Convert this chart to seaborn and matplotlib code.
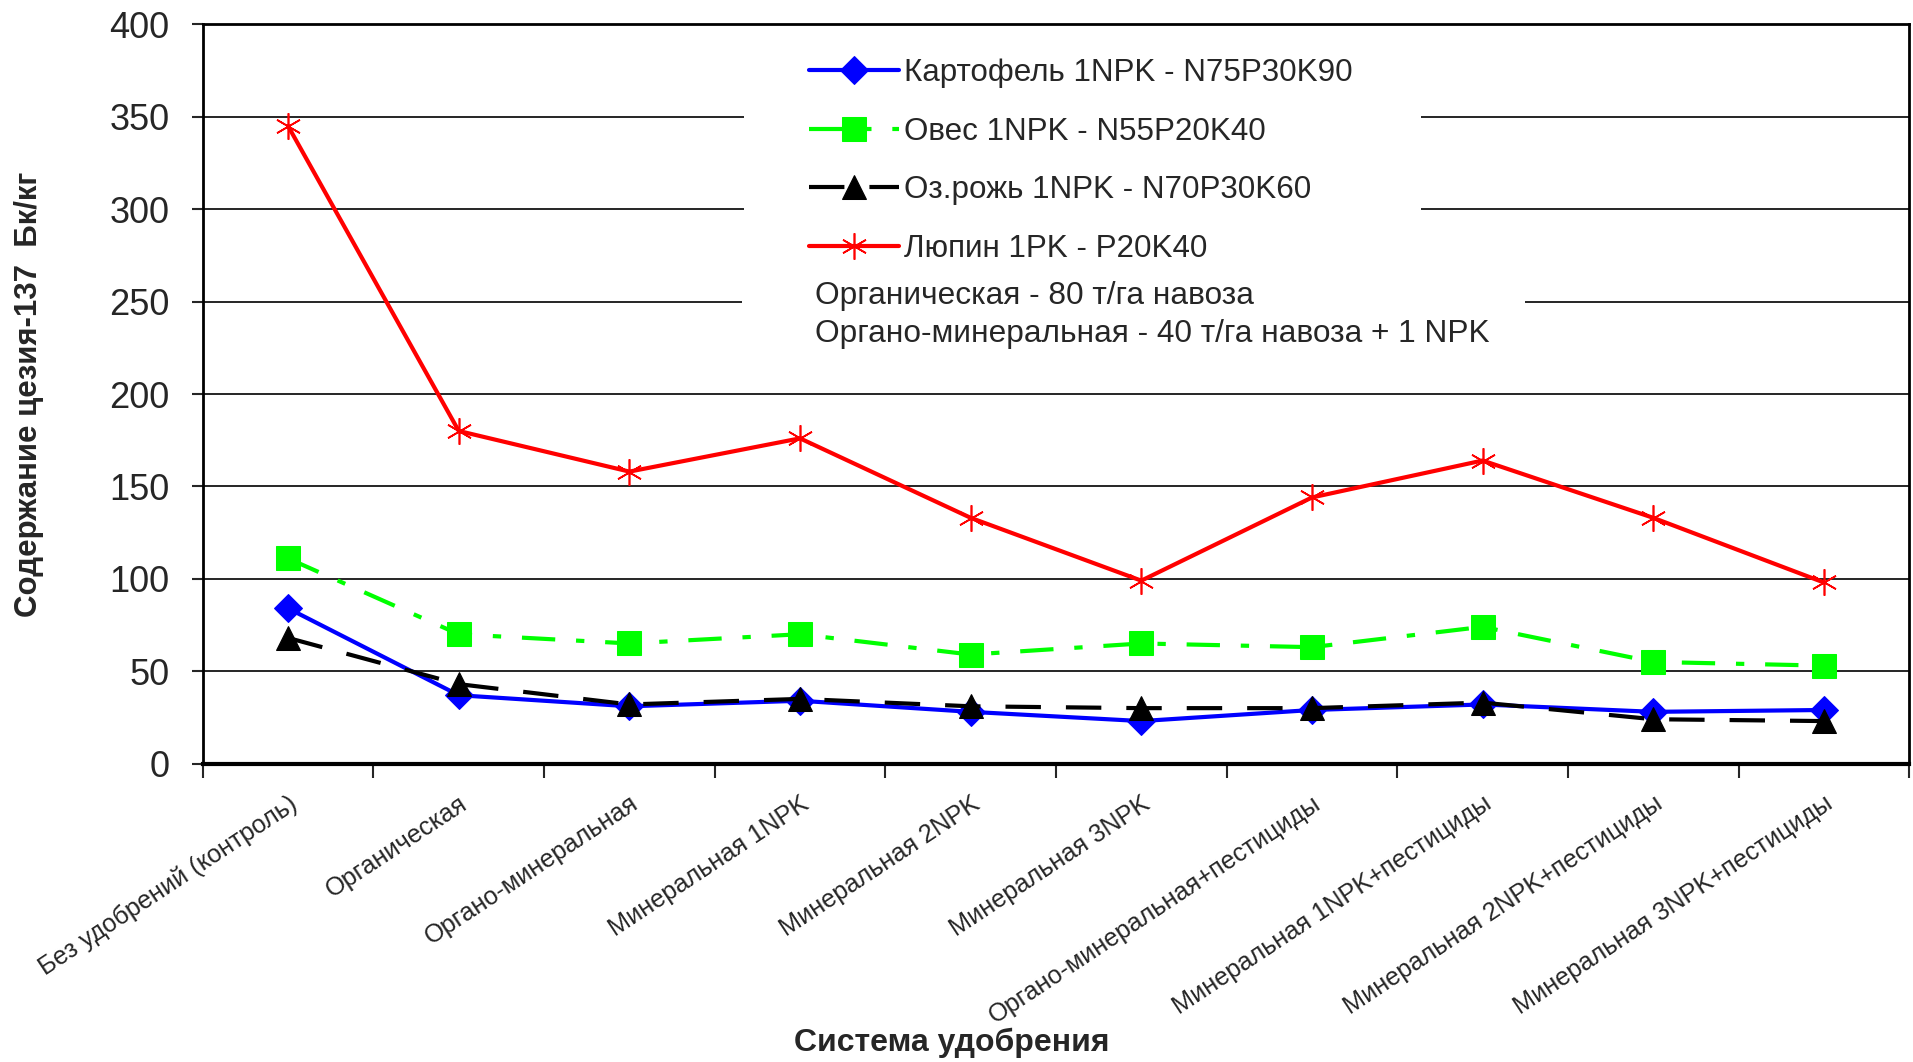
import numpy as np
import pandas as pd
import matplotlib
matplotlib.use("Agg")
import matplotlib.pyplot as plt
from matplotlib.patches import Rectangle
import seaborn as sns

categories = [
    "Без удобрений (контроль)",
    "Органическая",
    "Органо-минеральная",
    "Минеральная 1NPK",
    "Минеральная 2NPK",
    "Минеральная 3NPK",
    "Органо-минеральная+пестициды",
    "Минеральная 1NPK+пестициды",
    "Минеральная 2NPK+пестициды",
    "Минеральная 3NPK+пестициды",
]
potato = [84, 37, 31, 34, 28, 23, 29, 32, 28, 29]
oats = [111, 70, 65, 70, 59, 65, 63, 74, 55, 53]
rye = [68, 43, 32, 35, 31, 30, 30, 33, 24, 23]
lupin = [345, 180, 158, 176, 133, 99, 144, 164, 133, 98]

series_names = [
    "Картофель 1NPK - N75P30K90",
    "Овес 1NPK - N55P20K40",
    "Оз.рожь 1NPK - N70P30K60",
    "Люпин 1PK - P20K40",
]
yticks = [0, 50, 100, 150, 200, 250, 300, 350, 400]
note_lines = ["Органическая - 80 т/га навоза",
              "Органо-минеральная - 40 т/га навоза + 1 NPK"]
ylabel = "Содержание цезия-137  Бк/кг"
xlabel = "Система удобрения"

sns.set_theme(style="white")
plt.rcParams["font.family"] = ["Liberation Sans", "DejaVu Sans"]

fig = plt.figure(figsize=(19.13, 10.62), dpi=100)
ax = fig.add_axes([0.106, 0.281, 0.892, 0.696])

pos = np.arange(len(categories))
styles = [
    dict(color="#0000FF", marker="D", markersize=14, linestyle="-"),
    dict(color="#00FF00", marker="s", markersize=17, dashes=(8, 5, 2, 5)),
    dict(color="#000000", marker="^", markersize=17, dashes=(8.5, 6)),
    dict(color="#FF0000", marker=(6, 2, 0), markersize=19, linestyle="-",
         markeredgewidth=1.2),
]
for vals, name, st in zip([potato, oats, rye, lupin], series_names, styles):
    df = pd.DataFrame({"x": pos, "y": vals})
    kw = dict(st)
    color = kw.pop("color")
    sns.lineplot(data=df, x="x", y="y", ax=ax, color=color, linewidth=3,
                 label=name, markeredgecolor=color, markerfacecolor=color,
                 zorder=5, **kw)

ax.set_xlim(-0.5, len(categories) - 0.5)
ax.set_ylim(0, 400)
ax.set_yticks(yticks)
ax.set_yticklabels([str(v) for v in yticks], fontsize=26)
ax.tick_params(axis="y", direction="out", length=8, width=1.5, left=True, pad=16)

ax.set_xticks(pos)
ax.set_xticklabels(categories, fontsize=18.2, rotation=33.5, ha="right",
                   va="top", rotation_mode="anchor")
ax.tick_params(axis="x", which="major", length=0, pad=20)
ax.set_xticks(np.arange(len(categories) + 1) - 0.5, minor=True)
ax.tick_params(axis="x", which="minor", direction="out", length=10, width=1.5,
               bottom=True)

ax.yaxis.grid(True, color="black", linewidth=1.2)
ax.xaxis.grid(False)
ax.set_axisbelow(True)
for s in ["left", "top", "right"]:
    ax.spines[s].set_color("black")
    ax.spines[s].set_linewidth(2)
ax.spines["bottom"].set_color("black")
ax.spines["bottom"].set_linewidth(3)

ax.set_ylabel(ylabel, fontsize=22.5, fontweight="bold")
ax.yaxis.set_label_coords(-0.093, 0.5)
ax.set_xlabel(xlabel, fontsize=23, fontweight="bold")
ax.xaxis.set_label_coords(0.439, -0.357)

# white backgrounds of the legend area and the note (hide gridlines there)
ax.add_patch(Rectangle((0.317, 0.70), 0.397, 0.285, transform=ax.transAxes,
                       facecolor="white", edgecolor="none", zorder=3))
ax.add_patch(Rectangle((0.316, 0.555), 0.459, 0.11, transform=ax.transAxes,
                       facecolor="white", edgecolor="none", zorder=3))

leg = ax.legend(loc="upper left", bbox_to_anchor=(0.355, 0.955), fontsize=22.6,
                frameon=False, handlelength=2.87, handletextpad=0.18,
                labelspacing=0.92, borderpad=0, borderaxespad=0)
leg.set_zorder(4)

ax.text(0.359, 0.607, "\n".join(note_lines), transform=ax.transAxes,
        fontsize=22.8, ha="left", va="center", linespacing=1.36, zorder=4)

fig.savefig("out.png", dpi=100)
